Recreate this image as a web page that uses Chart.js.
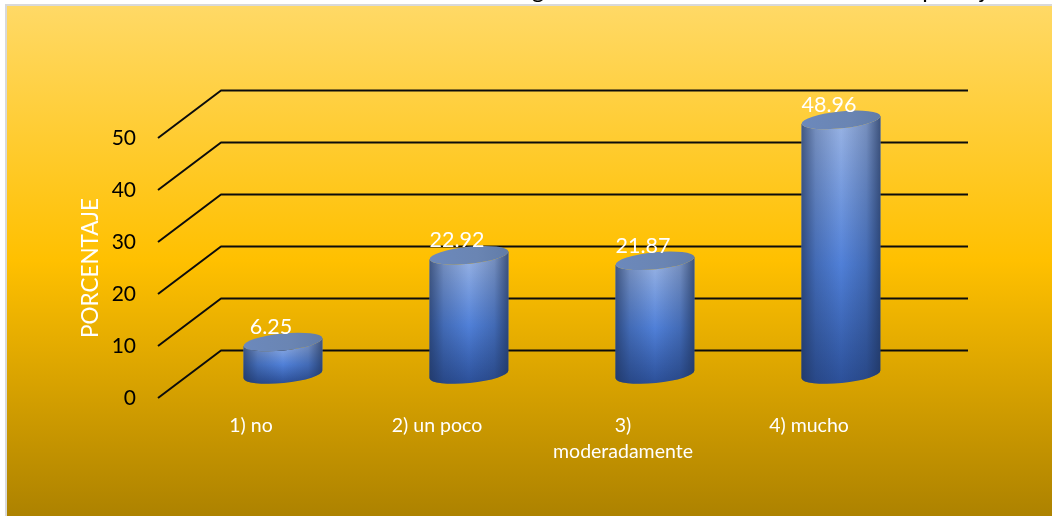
<!DOCTYPE html>
<html>
<head>
<meta charset="utf-8">
<style>
html, body { margin: 0; padding: 0; background: #fff; overflow: hidden; }
#wrap { width: 1052px; height: 516px; }
</style>
<script src="https://cdn.jsdelivr.net/npm/chart.js@4"></script>
</head>
<body>
<div id="wrap"><canvas id="grafico"></canvas></div>
<script>
// datos
var categorias = ['1) no', '2) un poco', ['3)', 'moderadamente'], '4) mucho'];
var porcentajes = [6.25, 22.92, 21.87, 48.96];
var etiquetas = ['6.25', '22.92', '21.87', '48.96'];
var ejeY = [0, 10, 20, 30, 40, 50];
var tituloCortado = [['g', 538], ['p', 929], ['j', 983]];

var fuente = 'Lato, "Open Sans", sans-serif';

// efecto 3D: profundidad del piso y plano donde van los cilindros
var fondoX = 63, fondoY = 47.5, finLinea = 968;
var barraX = 32, barraY = 23.5;

// panel con degradado, borde gris y restos del titulo
var panel = {
    id: 'panel',
    beforeDraw: function (chart) {
        var c = chart.ctx;
        var g = c.createLinearGradient(0, 6, 0, 516);
        g.addColorStop(0, '#FFD966');
        g.addColorStop(0.5, '#FFC000');
        g.addColorStop(1, '#AD8200');
        c.save();
        c.fillStyle = '#fff';
        c.fillRect(0, 0, 1052, 516);
        c.fillStyle = '#D9D9D9';
        c.fillRect(5, 4, 1047, 512);
        c.fillStyle = g;
        c.fillRect(7, 6, 1045, 510);
        c.fillStyle = '#000';
        c.font = '24px ' + fuente;
        c.textAlign = 'center';
        c.textBaseline = 'alphabetic';
        tituloCortado.forEach(function (t) {
            c.save();
            c.beginPath();
            c.rect(0, 0, 1052, 4);
            c.clip();
            c.fillText(t[0], t[1], -2);
            c.restore();
        });
        c.restore();
    }
};

// lineas de la rejilla en perspectiva
var rejilla = {
    id: 'rejilla',
    beforeDatasetsDraw: function (chart) {
        var c = chart.ctx, y = chart.scales.y, izq = chart.chartArea.left;
        c.save();
        c.strokeStyle = '#0c0c0c';
        c.lineWidth = 2;
        c.lineJoin = 'round';
        ejeY.forEach(function (v) {
            var py = y.getPixelForValue(v);
            c.beginPath();
            c.moveTo(izq, py);
            c.lineTo(izq + fondoX, py - fondoY);
            c.lineTo(finLinea, py - fondoY);
            c.stroke();
        });
        c.restore();
    }
};

function cilindro(c, x, arriba, abajo, ancho) {
    var rx = ancho / 2, ry = 8.5, giro = -0.1;
    var caida = Math.sin(giro) * rx;

    function cuerpo() {
        c.beginPath();
        c.moveTo(x - rx, arriba - caida);
        c.lineTo(x - rx, abajo - caida);
        c.ellipse(x, abajo, rx, ry, giro, Math.PI, 0, true);
        c.lineTo(x + rx, arriba + caida);
        c.ellipse(x, arriba, rx, ry, giro, 0, Math.PI, false);
        c.closePath();
    }

    var v = c.createLinearGradient(0, arriba, 0, abajo + ry);
    v.addColorStop(0, '#9AB4E4');
    v.addColorStop(0.55, '#5080D8');
    v.addColorStop(1, '#2C5099');
    cuerpo();
    c.fillStyle = v;
    c.fill();

    var h = c.createLinearGradient(x - rx, 0, x + rx, 0);
    h.addColorStop(0, 'rgba(30,50,90,0.7)');
    h.addColorStop(0.18, 'rgba(30,50,90,0.28)');
    h.addColorStop(0.5, 'rgba(30,50,90,0)');
    h.addColorStop(0.82, 'rgba(30,50,90,0.28)');
    h.addColorStop(1, 'rgba(30,50,90,0.75)');
    cuerpo();
    c.fillStyle = h;
    c.fill();

    // tapa
    var t = c.createLinearGradient(x - rx, 0, x + rx, 0);
    t.addColorStop(0, '#6C89BC');
    t.addColorStop(0.6, '#6A85B3');
    t.addColorStop(1, '#617CA8');
    c.beginPath();
    c.ellipse(x, arriba, rx, ry, giro, 0, Math.PI * 2);
    c.fillStyle = t;
    c.fill();
}

// los cilindros usan las barras que calcula Chart.js
var cilindros = {
    id: 'cilindros',
    afterDatasetsDraw: function (chart) {
        var c = chart.ctx;
        var barras = chart.getDatasetMeta(0).data;
        c.save();
        barras.forEach(function (b) {
            cilindro(c, b.x + barraX, b.y - barraY, b.base - barraY, b.width);
        });
        c.fillStyle = '#fff';
        c.font = '21.5px ' + fuente;
        c.textAlign = 'center';
        c.textBaseline = 'middle';
        barras.forEach(function (b, i) {
            c.fillText(etiquetas[i], b.x + barraX - 12, b.y - barraY - 15);
        });
        c.restore();
    }
};

new Chart(document.getElementById('grafico').getContext('2d'), {
    type: 'bar',
    data: {
        labels: categorias,
        datasets: [{
            data: porcentajes,
            backgroundColor: 'transparent',
            borderWidth: 0,
            barPercentage: 1,
            categoryPercentage: 0.425
        }]
    },
    plugins: [panel, rejilla, cilindros],
    options: {
        responsive: true,
        maintainAspectRatio: false,
        animation: false,
        layout: { padding: { top: 138, right: 150, left: 0, bottom: 0 } },
        plugins: { legend: { display: false }, tooltip: { enabled: false } },
        scales: {
            x: {
                afterFit: function (s) { s.height = 118; },
                grid: { display: false },
                border: { display: false },
                ticks: {
                    color: '#fff',
                    font: { family: fuente, size: 19.5, lineHeight: 1.33 },
                    padding: 7,
                    maxRotation: 0,
                    autoSkip: false
                }
            },
            y: {
                min: 0,
                max: 50,
                afterFit: function (s) { s.width = 158; },
                grid: { display: false },
                border: { display: false },
                ticks: {
                    stepSize: 10,
                    color: '#000',
                    padding: 14,
                    font: { family: fuente, size: 21 }
                },
                title: {
                    display: true,
                    text: 'PORCENTAJE',
                    color: '#fff',
                    font: { family: fuente, size: 22.5 },
                    padding: { top: 77, bottom: 0 }
                }
            }
        }
    }
});
</script>
</body>
</html>
